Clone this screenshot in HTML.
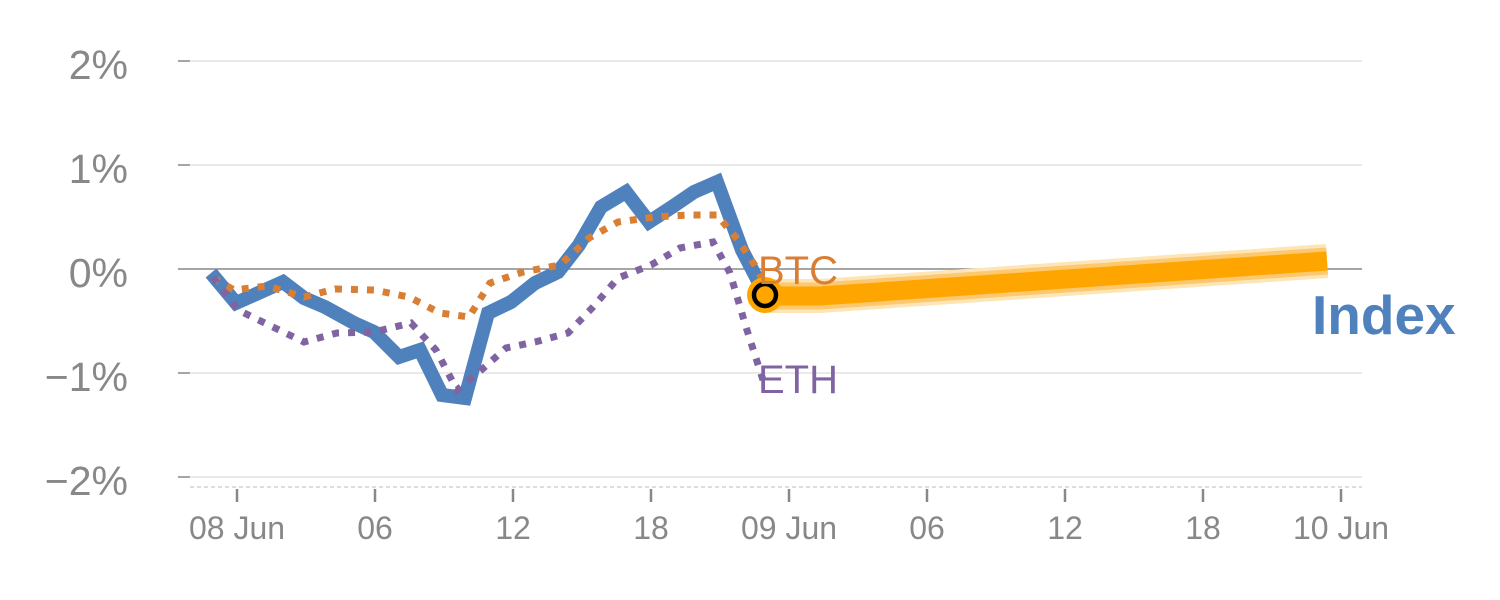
<!DOCTYPE html>
<html><head><style>body{margin:0;background:#fff}svg{display:block}</style></head><body>
<svg width="1500" height="600" viewBox="0 0 1500 600" font-family="Liberation Sans, sans-serif">
<g stroke="#e3e3e3" stroke-width="1.5">
<line x1="190" y1="61" x2="1362" y2="61"/><line x1="190" y1="165" x2="1362" y2="165"/>
<line x1="190" y1="373" x2="1362" y2="373"/><line x1="190" y1="477" x2="1362" y2="477"/>
</g>
<line x1="190" y1="269" x2="1362" y2="269" stroke="#888" stroke-width="1.5"/>
<g stroke="#888" stroke-width="1.5"><line x1="178" y1="61" x2="190" y2="61"/><line x1="178" y1="165" x2="190" y2="165"/><line x1="178" y1="269" x2="190" y2="269"/><line x1="178" y1="373" x2="190" y2="373"/><line x1="178" y1="477" x2="190" y2="477"/></g>
<line x1="190" y1="487" x2="1362" y2="487" stroke="#ddd" stroke-width="2" stroke-dasharray="4,3"/>
<g stroke="#888" stroke-width="2.5">
<line x1="237" y1="489" x2="237" y2="502"/><line x1="375" y1="489" x2="375" y2="502"/><line x1="513" y1="489" x2="513" y2="502"/><line x1="651" y1="489" x2="651" y2="502"/><line x1="789" y1="489" x2="789" y2="502"/><line x1="927" y1="489" x2="927" y2="502"/><line x1="1065" y1="489" x2="1065" y2="502"/><line x1="1203" y1="489" x2="1203" y2="502"/><line x1="1341" y1="489" x2="1341" y2="502"/>
</g>
<g fill="#888" font-size="41" text-anchor="end">
<text x="128" y="79">2%</text><text x="128" y="183">1%</text><text x="128" y="287">0%</text><text x="128" y="391">−1%</text><text x="128" y="495">−2%</text>
</g>
<g fill="#888" font-size="32" text-anchor="middle">
<text x="237" y="539">08 Jun</text><text x="375" y="539">06</text><text x="513" y="539">12</text><text x="651" y="539">18</text><text x="789" y="539">09 Jun</text><text x="927" y="539">06</text><text x="1065" y="539">12</text><text x="1203" y="539">18</text><text x="1341" y="539">10 Jun</text>
</g>
<polyline fill="none" stroke="#4f81bd" stroke-width="14" stroke-linejoin="miter" points="211,273 236,303 283,282 304,298 325,307 354,323 374,332 399,357 420,350 442,395 465,398 488,313 511,302 535,283 558,272 579,245 601,207 626,192 649,222 672,207 694,192 717,182 742,250 756,277 765,295"/>
<polyline fill="none" stroke="#d97f35" stroke-width="7" stroke-dasharray="7,9" points="213,278 234,290 267,286 304,297 335,289 374,290 409,297 440,313 469,317 490,283 523,272 560,265 589,238 618,222 655,217 688,215 717,215 738,240 756,267 765,285"/>
<polyline fill="none" stroke="#8064a2" stroke-width="7" stroke-dasharray="7,9" points="213,277 238,310 275,328 304,342 337,333 374,332 411,323 436,350 457,390 478,373 506,348 535,342 568,333 593,307 618,278 651,265 680,248 713,242 730,273 746,327 763,380"/>
<path d="M767,296 L820,296 L1327,261" fill="none" stroke="#fde5b5" stroke-width="34"/>
<path d="M767,296 L820,296 L1327,261" fill="none" stroke="#fcc870" stroke-width="27"/>
<path d="M767,296 L820,296 L1327,261" fill="none" stroke="#ffa500" stroke-width="19"/>
<circle cx="765" cy="295" r="18" fill="#ffa500"/>
<circle cx="765" cy="295" r="11" fill="#ffa500" stroke="#000" stroke-width="4.5"/>
<text x="758" y="284" font-size="40" fill="#d97f35">BTC</text>
<text x="758" y="393" font-size="40" fill="#8064a2">ETH</text>
<text x="1312" y="334" font-size="55" font-weight="bold" fill="#4f81bd">Index</text>
</svg>
</body></html>
